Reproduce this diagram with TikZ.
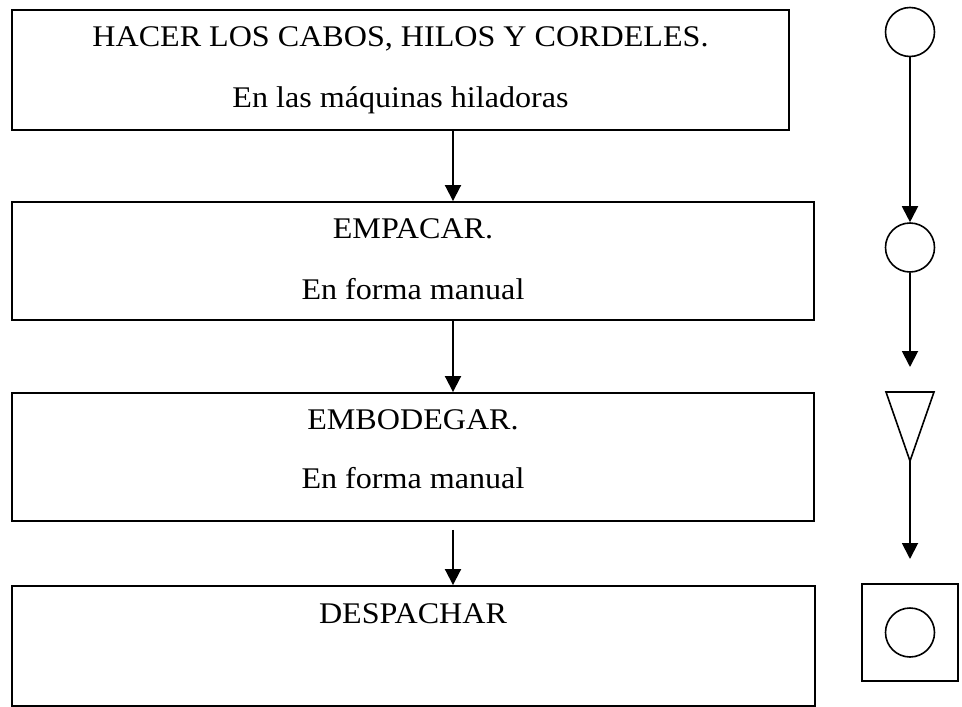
\documentclass[tikz,border=0pt]{standalone}
\usepackage{fontspec}
\setmainfont{Liberation Serif}[FakeStretch=1.07]
\usetikzlibrary{arrows.meta}
\begin{document}
\begin{tikzpicture}[x=1pt,y=-1pt,
  box/.style={draw,line width=1.9pt,inner sep=0pt},
  lbl/.style={anchor=base,inner sep=0pt,font=\fontsize{30}{36}\selectfont},
  flow/.style={line width=1.9pt,-{Triangle[width=16pt,length=16pt]}},
  sym/.style={draw,circle,line width=1.6pt,minimum size=49pt,inner sep=0pt}]
\useasboundingbox (0,0) rectangle (962,707);
% left boxes
\node[box,minimum width=777pt,minimum height=120pt] (b1) at (400.5,70) {};
\node[box,minimum width=802pt,minimum height=118pt] (b2) at (413,261) {};
\node[box,minimum width=802pt,minimum height=128pt] (b3) at (413,457) {};
\node[box,minimum width=803pt,minimum height=120pt] (b4) at (413.5,646) {};
\node[lbl] (t1a) at (400.5,46) {HACER LOS CABOS, HILOS Y CORDELES.};
\node[lbl] (t1b) at (400.5,107) {En las máquinas hiladoras};
\node[lbl] (t2a) at (413,238) {EMPACAR.};
\node[lbl] (t2b) at (413,299) {En forma manual};
\node[lbl] (t3a) at (413,429) {EMBODEGAR.};
\node[lbl] (t3b) at (413,488) {En forma manual};
\node[lbl] (t4a) at (413,623) {DESPACHAR};
\coordinate (col) at (453,0);
\draw[flow] (b1.south -| col) -- (b2.north -| col);
\draw[flow] (b2.south -| col) -- (b3.north -| col);
\draw[flow] ([yshift=-8pt]b3.south -| col) -- (b4.north -| col);
% right symbols
\node[sym] (c1) at (910,32) {};
\node[sym] (c2) at (910,247.5) {};
\coordinate (e2) at (910,367);
\coordinate (tl) at (886,392);
\coordinate (tr) at (934,392);
\coordinate (ta) at (910,461);
\draw[line width=1.6pt,line join=miter] (tl) -- (tr) -- (ta) -- cycle;
\coordinate (e3) at (910,559);
\node[draw,line width=1.9pt,minimum width=96pt,minimum height=97pt,inner sep=0pt] (sq) at (910,632.5) {};
\node[sym] (c3) at (sq.center) {};
\draw[flow] (c1.south) -- (c2.north);
\draw[flow] (c2.south) -- (e2);
\draw[flow] (ta) -- (e3);
\end{tikzpicture}
\end{document}
